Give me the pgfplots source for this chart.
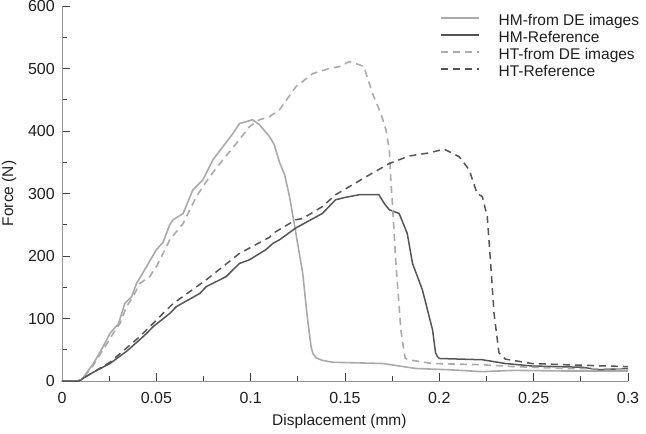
\documentclass[border=0pt]{standalone}
\usepackage{pgfplots}
\pgfplotsset{compat=1.18}
\usepackage{fontspec}
\setmainfont{Liberation Sans}
\definecolor{lightc}{RGB}{170,170,170}
\definecolor{darkc}{RGB}{85,85,85}
\definecolor{axc}{RGB}{150,150,150}
\definecolor{txt}{RGB}{30,30,30}
\begin{document}
\begin{tikzpicture}[font=\fontsize{16}{19}\selectfont]
\begin{axis}[
  scale only axis, width=566pt, height=375pt,
  xmin=0, xmax=0.3, ymin=0, ymax=600,
  axis x line*=bottom, axis y line*=left,
  axis line style={color=axc, line width=0.8pt},
  tick align=inside,
  major tick length=8pt, minor tick length=5pt,
  tick style={color=black!75, line width=0.8pt},
  xtick={0,0.05,0.1,0.15,0.2,0.25,0.3},
  xticklabels={0,0.05,0.1,0.15,0.2,0.25,0.3},
  minor xtick={0.025,0.075,0.125,0.175,0.225,0.275},
  ytick={0,100,200,300,400,500,600},
  yticklabels={0,100,200,300,400,500,600},
  minor ytick={50,150,250,350,450,550},
  xticklabel style={inner sep=0pt, text=txt, font=\fontsize{16}{19}\selectfont},
  yticklabel style={inner sep=0pt, text=txt, font=\fontsize{16}{19}\selectfont},
  xticklabel shift=11pt, yticklabel shift=7pt,
  xlabel={Displacement (mm)}, ylabel={Force (N)},
  every axis x label/.style={at={(rel axis cs:0.49,0)}, anchor=north, yshift=-33pt, inner sep=0pt, text=txt, font=\fontsize{15.5}{18}\selectfont},
  every axis y label/.style={at={(rel axis cs:0,0.5)}, xshift=-53pt, rotate=90, anchor=center, inner sep=0pt, text=txt, font=\fontsize{15.5}{18}\selectfont},
  legend style={draw=none, fill=none, at={(rel axis cs:0.668,0.979)}, anchor=north west,
    inner sep=0pt, outer sep=0pt, row sep=0pt, column sep=19pt,
    nodes={inner sep=0pt, text height=12pt, text depth=5pt, text=txt},
    font=\fontsize{15.5}{18}\selectfont},
  legend cell align=left,
  legend image code/.code={\draw[#1] (0pt,4.5pt) -- (38pt,4.5pt);},
]
\addplot[color=lightc, line width=1.6pt] coordinates {
(0,0) (0.008,0) (0.0104,2) (0.0166,28) (0.0218,55) (0.0254,76) (0.030,92)
(0.0333,124) (0.0369,135) (0.0395,156) (0.0448,183) (0.050,210) (0.0536,222)
(0.0571,250) (0.0589,258) (0.0642,268) (0.0694,306) (0.0747,322) (0.080,354)
(0.0853,375) (0.0906,396) (0.0941,412) (0.0977,415) (0.101,418) (0.1047,410)
(0.110,391) (0.1125,378) (0.1153,350) (0.118,330) (0.1206,295) (0.124,236)
(0.1276,172) (0.130,103) (0.132,55) (0.133,44) (0.1347,37) (0.138,33)
(0.1435,30) (0.170,28) (0.1876,20) (0.205,18) (0.2228,15) (0.240,17)
(0.267,16) (0.3,16)
};
\addlegendentry{HM-from DE images}
\addplot[color=darkc, line width=1.5pt] coordinates {
(0,0) (0.009,0) (0.011,4) (0.0166,14) (0.0254,28) (0.034,47) (0.0412,66)
(0.0448,76) (0.0483,87) (0.0571,108) (0.0606,119) (0.073,140) (0.0765,151)
(0.087,167) (0.094,188) (0.0994,194) (0.108,210) (0.1117,220) (0.1153,226)
(0.124,245) (0.138,268) (0.145,290) (0.1505,294) (0.1576,298) (0.168,298)
(0.1708,284) (0.1735,274) (0.1787,268) (0.1795,262) (0.183,236) (0.1858,188)
(0.191,146) (0.1964,82) (0.198,45) (0.199,39) (0.2,36) (0.2228,34)
(0.235,28) (0.249,24) (0.2757,22) (0.2845,18) (0.3,20)
};
\addlegendentry{HM-Reference}
\addplot[color=lightc, line width=1.6pt, dash pattern=on 7pt off 5pt] coordinates {
(0,0) (0.008,0) (0.0104,2) (0.0166,25) (0.0218,50) (0.0271,76) (0.0307,92)
(0.0342,119) (0.0377,135) (0.0412,156) (0.0465,167) (0.050,183) (0.0554,215)
(0.0571,226) (0.0642,252) (0.0712,295) (0.0783,327) (0.0853,354) (0.0924,380)
(0.0994,407) (0.1047,418) (0.110,423) (0.1153,434) (0.124,471) (0.133,492)
(0.1417,500) (0.147,503) (0.1523,511) (0.1576,506) (0.160,503) (0.1646,460)
(0.169,428) (0.1717,402) (0.1735,370) (0.1743,320) (0.175,290) (0.177,188)
(0.1796,82) (0.1814,44) (0.182,36) (0.1858,33) (0.196,28) (0.2228,26)
(0.240,23) (0.267,20) (0.3,19)
};
\addlegendentry{HT-from DE images}
\addplot[color=darkc, line width=1.5pt, dash pattern=on 7pt off 5pt] coordinates {
(0,0) (0.009,0) (0.011,4) (0.0254,30) (0.0412,71) (0.0589,124) (0.0765,162)
(0.094,204) (0.110,230) (0.1117,236) (0.124,258) (0.1276,260) (0.138,279)
(0.145,298) (0.1523,311) (0.163,330) (0.1735,348) (0.184,360) (0.1946,365)
(0.2025,371) (0.2105,359) (0.2158,338) (0.220,300) (0.2228,295) (0.2254,263)
(0.2272,188) (0.229,108) (0.2316,45) (0.235,35) (0.249,28) (0.267,26) (0.3,23)
};
\addlegendentry{HT-Reference}
\end{axis}
\path (-62pt,-53pt) rectangle (584pt,381pt);
\end{tikzpicture}
\end{document}
